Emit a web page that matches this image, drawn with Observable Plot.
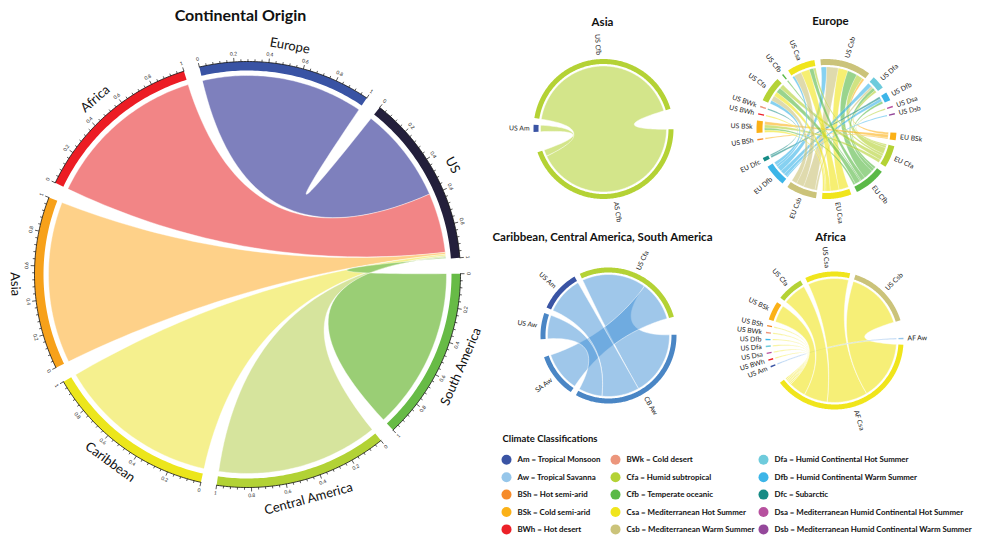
<!DOCTYPE html>
<html><head><meta charset="utf-8">
<script src="https://cdn.jsdelivr.net/npm/d3@7"></script>
<script src="https://cdn.jsdelivr.net/npm/@observablehq/plot@0.6"></script>
<style>
html,body{margin:0;padding:0;background:#fff;}
#chart{width:981px;height:540px;overflow:hidden;}
</style></head>
<body><div id="chart"></div>
<script>
// ================= DATA =================
// Main chord: continents, each sector scaled 0..1
const continents = ["Africa","Europe","US","South America","Central America","Caribbean","Asia"];
const continentAxisMax = [1,1,1,1,1,1,1];
const originContinents = ["Europe","Africa","Asia","Caribbean","Central America","South America"];
const shareAtOrigin = [1,1,1,1,1,1];
const shareAtUS = [0.59,0.37,0.012,0.01,0.008,0.006];

// Asia panel
const asiaSectors = ["US Cfb","AS Cfb","US Am"];
const asiaFrom = ["US Cfb","US Am"];
const asiaTo = ["AS Cfb","AS Cfb"];
const asiaValues = [155,6];

// Europe panel
const europeSectors = ["US Csb","US Dfa","US Dfb","US Dsa","US Dsb","EU BSk","EU Cfa","EU Cfb","EU Csa","EU Csb","EU Dfb","EU Dfc","US BSh","US BSk","US BWh","US BWk","US Cfa","US Cfb","US Csa"];
const europeFrom = ["US Csb","US Csb","US Csb","US Csb","US Csb","US Csb","US Dfa","US Dfa","US Dfa","US Dfa","US Dfb","US Dfb","US Dfb","US Dsa","US Dsb","US BSh","US BSk","US BSk","US BSk","US BSk","US BWh","US BWk","US Cfa","US Cfa","US Cfa","US Cfa","US Cfa","US Cfb","US Csa","US Csa","US Csa","US Csa","US Csa"];
const europeTo = ["EU Dfb","EU Csb","EU Csa","EU Cfb","EU Cfa","EU BSk","EU Dfb","EU Cfb","EU Cfa","EU Csb","EU Dfb","EU Dfc","EU Cfb","EU Cfa","EU Dfb","EU BSk","EU BSk","EU Cfa","EU Cfb","EU Csa","EU Csa","EU Dfc","EU Cfb","EU Cfa","EU Csb","EU Csa","EU Dfb","EU Cfb","EU Dfb","EU Csb","EU Csa","EU Cfb","EU Cfa"];
const europeValues = [5,11,9,9,6,2,4,3,2,2,3,2,2,1.2,1.2,1.2,3,3,2,2,1.2,1.2,5,4,5,4,3,1.2,2,7,8,4,2];

// Caribbean / Central America / South America panel
const caribSectors = ["US Cfa","CB Aw","SA Aw","US Aw","US Am"];
const caribFrom = ["US Cfa","US Cfa","US Am","US Aw"];
const caribTo = ["CB Aw","SA Aw","CB Aw","CB Aw"];
const caribValues = [60,37,35,22];

// Africa panel
const africaSectors = ["US Csa","US Csb","AF Aw","AF Csa","US Am","US BWh","US Dsa","US Dfa","US Dfb","US BWk","US BSh","US BSk","US Cfa"];
const africaFrom = ["US Csa","US Csb","US Am","US BWh","US Dsa","US Dfa","US Dfb","US BWk","US BSh","US BSk","US Cfa"];
const africaTo = ["AF Csa","AF Csa","AF Aw","AF Csa","AF Csa","AF Csa","AF Csa","AF Csa","AF Csa","AF Csa","AF Csa"];
const africaValues = [38,55,1.2,1.2,1.2,1.2,1.2,1.2,1.2,16,22];

// Legend
const climateCodes = ["Am","Aw","BSh","BSk","BWh","BWk","Cfa","Cfb","Csa","Csb","Dfa","Dfb","Dfc","Dsa","Dsb"];
const climateNames = ["Tropical Monsoon","Tropical Savanna","Hot semi-arid","Cold semi-arid","Hot desert","Cold desert","Humid subtropical","Temperate oceanic","Mediterranean Hot Summer","Mediterranean Warm Summer","Humid Continental Hot Summer","Humid Continental Warm Summer","Subarctic","Mediterranean Humid Continental Hot Summer","Mediterranean Humid Continental Warm Summer"];

// ================= STYLES =================
const climateColor = {Am:"#3a54a4",Aw:"#96c6ea",BSh:"#f68b2a",BSk:"#fbb117",BWh:"#ec2128",BWk:"#ec967c",Cfa:"#b4d235",Cfb:"#5bb947",Csa:"#f0e51c",Csb:"#cbc37a",Dfa:"#6ecbdc",Dfb:"#3cb5e8",Dfc:"#168b85",Dsa:"#b7519f",Dsb:"#95489b"};
const mainTrackColor = {Africa:"#ec1c24",Europe:"#3953a4",US:"#231f3b","South America":"#67bb46","Central America":"#b2d235",Caribbean:"#ece61c",Asia:"#f7a11a"};
const mainRibbonColor = {Europe:"#7779b9",Africa:"#f17e80",Asia:"#fecf83",Caribbean:"#f4ef88","Central America":"#d4e398","South America":"#95cb6e"};

const rad = d => d*Math.PI/180;
const rel = d => ((d%360)+360)%360;
const pt = (p,r,a) => [p.cx + r*Math.sin(rad(a)), p.cy - r*Math.cos(rad(a))];
function arcPts(p,r,a0,a1){const n=Math.max(2,Math.ceil(Math.abs(a1-a0)/0.8));return d3.range(n+1).map(i=>pt(p,r,a0+(a1-a0)*i/n));}
function bez(p0,c,p2,n=40){return d3.range(1,n).map(i=>{const t=i/n,u=1-t;return [u*u*p0[0]+2*u*t*c[0]+t*t*p2[0],u*u*p0[1]+2*u*t*c[1]+t*t*p2[1]];});}
const grp = s => s.startsWith("US") ? "US" : "X";

function buildChord(p){
  const fw = p.fromW || p.values, tw = p.toW || p.values;
  const links = p.from.map((f,i)=>({from:f,to:p.to[i],fw:fw[i],tw:tw[i],i}));
  const size = new Map(p.sectors.map(s=>[s,0]));
  links.forEach(l=>{size.set(l.from,size.get(l.from)+l.fw);size.set(l.to,size.get(l.to)+l.tw);});
  if (p.sizes) p.sectors.forEach((s,i)=>size.set(s,p.sizes[i]));
  const n = p.sectors.length;
  const gaps = p.sectors.map((s,i)=>grp(s)===grp(p.sectors[(i+1)%n]) ? p.gapSmall : p.gapBig);
  const k = (360 - d3.sum(gaps)) / d3.sum(p.sectors, s=>size.get(s));
  const sec = new Map(); let a = p.start;
  p.sectors.forEach((s,i)=>{const a1=a+size.get(s)*k;sec.set(s,{name:s,a0:a,a1,mid:(a+a1)/2});a=a1+gaps[i];});
  const ends=[];
  links.forEach(l=>{l.fromEnd={sector:l.from,partner:l.to,w:l.fw};l.toEnd={sector:l.to,partner:l.from,w:l.tw};ends.push(l.fromEnd,l.toEnd);});
  p.sectors.forEach(s=>{
    let es = ends.filter(e=>e.sector===s);
    const m = sec.get(s).mid;
    if (p.sort) es = es.slice().sort((x,y)=>rel(sec.get(y.partner).mid-m)-rel(sec.get(x.partner).mid-m));
    let cur = sec.get(s).a0;
    es.forEach(e=>{e.a0=cur;e.a1=cur+e.w*k;cur=e.a1;});
  });
  return {sec,links};
}
function ribbonRows(p,L,colorFn,tag){
  const rows=[],C=[p.cx,p.cy],r=p.r-p.track-p.pad;
  L.links.forEach((l,j)=>{
    const s=l.fromEnd,t=l.toEnd;
    const pts=[...arcPts(p,r,s.a0,s.a1),...bez(pt(p,r,s.a1),C,pt(p,r,t.a0)),...arcPts(p,r,t.a0,t.a1),...bez(pt(p,r,t.a1),C,pt(p,r,s.a0))];
    const col=colorFn(l);
    pts.forEach(q=>rows.push({id:tag+j,x:q[0],y:q[1],col}));
  });
  return rows;
}
function trackRows(p,L,colorFn,tag){
  const rows=[];
  [...L.sec.values()].forEach((s,j)=>{
    const pts=[...arcPts(p,p.r,s.a0,s.a1),...arcPts(p,p.r-p.track,s.a1,s.a0)];
    const col=colorFn(s.name);
    pts.forEach(q=>rows.push({id:tag+j,x:q[0],y:q[1],col}));
  });
  return rows;
}
function radialLabels(p,L){
  return [...L.sec.values()].map(s=>{const a=rel(s.mid),right=a<180;const [x,y]=pt(p,p.r+p.labelGap,s.mid);return {text:s.name,x,y,rotate:right?a-90:a-270,right};});
}
const bendRot = a => { a=rel(a); return (a>=90&&a<270)? a-180 : (a>=270? a-360 : a); };

// ================= PANELS =================
const mainCfg = {cx:247,cy:274,r:213,track:9,pad:5,start:295.5,gapSmall:4.3,gapBig:4.3,sort:true,
  sectors:continents,sizes:continentAxisMax,from:originContinents,to:originContinents.map(()=>"US"),fromW:shareAtOrigin,toW:shareAtUS};
const asiaCfg = {cx:603,cy:128.5,r:70,track:5,pad:2,start:279,gapSmall:5.5,gapBig:17,sort:true,labelGap:4,
  sectors:asiaSectors,from:asiaFrom,to:asiaTo,values:asiaValues};
const europeCfg = {cx:826,cy:128.5,r:70,track:6,pad:2,start:355,gapSmall:5,gapBig:15,sort:true,labelGap:4,
  sectors:europeSectors,from:europeFrom,to:europeTo,values:europeValues};
const caribCfg = {cx:608,cy:335,r:68,track:5,pad:2,start:335,gapSmall:5,gapBig:15.5,sort:false,labelGap:4,
  sectors:caribSectors,from:caribFrom,to:caribTo,values:caribValues};
const africaCfg = {cx:834,cy:340,r:69,track:5,pad:2,start:335,gapSmall:4.6,gapBig:14.8,sort:true,labelGap:4,
  sectors:africaSectors,from:africaFrom,to:africaTo,values:africaValues};

const code = s => s.split(" ")[1];
const mainL = buildChord(mainCfg), asiaL = buildChord(asiaCfg), euL = buildChord(europeCfg), cbL = buildChord(caribCfg), afL = buildChord(africaCfg);

const mainRib = ribbonRows(mainCfg,mainL,l=>mainRibbonColor[l.from],"m");
const mainTrk = trackRows(mainCfg,mainL,s=>mainTrackColor[s],"mt");
const asiaRib = ribbonRows(asiaCfg,asiaL,l=>climateColor.Cfa,"a");
const asiaTrk = trackRows(asiaCfg,asiaL,s=>s.endsWith("Cfb")?climateColor.Cfa:climateColor[code(s)],"at");
const euRib = ribbonRows(europeCfg,euL,l=>climateColor[code(l.to)],"e");
const euTrk = trackRows(europeCfg,euL,s=>climateColor[code(s)],"et");
const cbRib = ribbonRows(caribCfg,cbL,l=>"#3f8fd6","c");
const cbTrk = trackRows(caribCfg,cbL,s=>s.endsWith("Aw")?"#4a86c5":climateColor[code(s)],"ct");
const afRib = ribbonRows(africaCfg,afL,l=>l.to==="AF Aw"?"#6fa9e6":climateColor[code(l.to)],"f");
const afTrk = trackRows(africaCfg,afL,s=>climateColor[code(s)],"ft");

// main axis: baseline, ticks, tick labels, sector labels
const baseRows=[],tickRows=[],tickLabelRows=[],mainLabelRows=[];
[...mainL.sec.values()].forEach((s,j)=>{
  arcPts(mainCfg,mainCfg.r,s.a0,s.a1).forEach(q=>baseRows.push({id:j,x:q[0],y:q[1]}));
  d3.range(26).forEach(i=>{
    const t=i*0.04,a=s.a0+t*(s.a1-s.a0),major=i%5===0;
    const [x1,y1]=pt(mainCfg,mainCfg.r,a),[x2,y2]=pt(mainCfg,mainCfg.r+(major?4:2.3),a);
    tickRows.push({x1,y1,x2,y2});
    if(major){const [x,y]=pt(mainCfg,mainCfg.r+8,a);tickLabelRows.push({x,y,text:i===0?"0":i===25?"1":t.toFixed(1),rotate:bendRot(a)});}
  });
  const [x,y]=pt(mainCfg,mainCfg.r+19.5,s.mid);
  mainLabelRows.push({x,y,text:s.name,rotate:bendRot(s.mid)});
});

const smallLabels=[...radialLabels(asiaCfg,asiaL),...radialLabels(europeCfg,euL),...radialLabels(caribCfg,cbL),...radialLabels(africaCfg,afL)];

const titles=[
  {x:240,y:15,text:"Continental Origin",size:16},
  {x:602,y:22,text:"Asia",size:11.5},
  {x:830,y:21,text:"Europe",size:11.5},
  {x:602,y:237,text:"Caribbean, Central America, South America",size:11.5},
  {x:830,y:237,text:"Africa",size:11.5}
];
const legendX=[506,615,763], legendY0=459.3, legendDY=17.4;
const legendRows=climateCodes.map((c,i)=>({cx:legendX[Math.floor(i/5)],y:legendY0+(i%5)*legendDY,col:climateColor[c],text:`${c} = ${climateNames[i]}`}));

const lineOpts=(extra)=>Object.assign({x:"x",y:"y",z:"id",fill:"col",stroke:"none",curve:"linear-closed"},extra);

const chart = Plot.plot({
  width:981,height:540,margin:0,
  x:{domain:[0,981],range:[0,981],axis:null},
  y:{domain:[0,540],range:[0,540],axis:null},
  color:{type:"identity"},
  style:{fontFamily:"Lato, 'Open Sans', sans-serif",background:"#fff",color:"#111"},
  marks:[
    Plot.line(mainRib,lineOpts({fillOpacity:0.95,stroke:"white",strokeWidth:0.4})),
    Plot.line(mainTrk,lineOpts({})),
    Plot.line(baseRows,{x:"x",y:"y",z:"id",stroke:"#111",strokeWidth:0.8}),
    Plot.link(tickRows,{x1:"x1",y1:"y1",x2:"x2",y2:"y2",stroke:"#111",strokeWidth:0.7}),
    Plot.text(tickLabelRows,{x:"x",y:"y",text:"text",rotate:"rotate",fontSize:5,fill:"#222"}),
    Plot.text(mainLabelRows,{x:"x",y:"y",text:"text",rotate:"rotate",fontSize:13,fill:"#111"}),

    Plot.line(asiaRib,lineOpts({fillOpacity:0.58,stroke:"white",strokeWidth:0.5})),
    Plot.line(asiaTrk,lineOpts({})),
    Plot.line(euRib,lineOpts({fillOpacity:0.62,stroke:"white",strokeWidth:0.3,strokeOpacity:0.7})),
    Plot.line(euTrk,lineOpts({})),
    Plot.line(cbRib,lineOpts({fillOpacity:0.5,stroke:"white",strokeWidth:0.5})),
    Plot.line(cbTrk,lineOpts({})),
    Plot.line(afRib,lineOpts({fillOpacity:0.6,stroke:"white",strokeWidth:0.5})),
    Plot.line(afTrk,lineOpts({})),

    Plot.text(smallLabels.filter(d=>d.right),{x:"x",y:"y",text:"text",rotate:"rotate",textAnchor:"start",fontSize:6.8,fill:"#222"}),
    Plot.text(smallLabels.filter(d=>!d.right),{x:"x",y:"y",text:"text",rotate:"rotate",textAnchor:"end",fontSize:6.8,fill:"#222"}),

    Plot.text(titles.filter(d=>d.size>12),{x:"x",y:"y",text:"text",fontSize:16,fontWeight:"bold",fill:"#111"}),
    Plot.text(titles.filter(d=>d.size<=12),{x:"x",y:"y",text:"text",fontSize:11.5,fontWeight:"bold",fill:"#111"}),
    Plot.text([{x:502,y:438,text:"Climate Classifications"}],{x:"x",y:"y",text:"text",textAnchor:"start",fontSize:9.5,fontWeight:"bold",fill:"#111"}),
    Plot.dot(legendRows,{x:"cx",y:"y",r:5,fill:"col",stroke:"none"}),
    Plot.text(legendRows,{x:d=>d.cx+11,y:"y",text:"text",textAnchor:"start",fontSize:7.9,fontWeight:"bold",fill:"#111"})
  ]
});
document.getElementById("chart").appendChild(chart);
</script>
</body></html>
